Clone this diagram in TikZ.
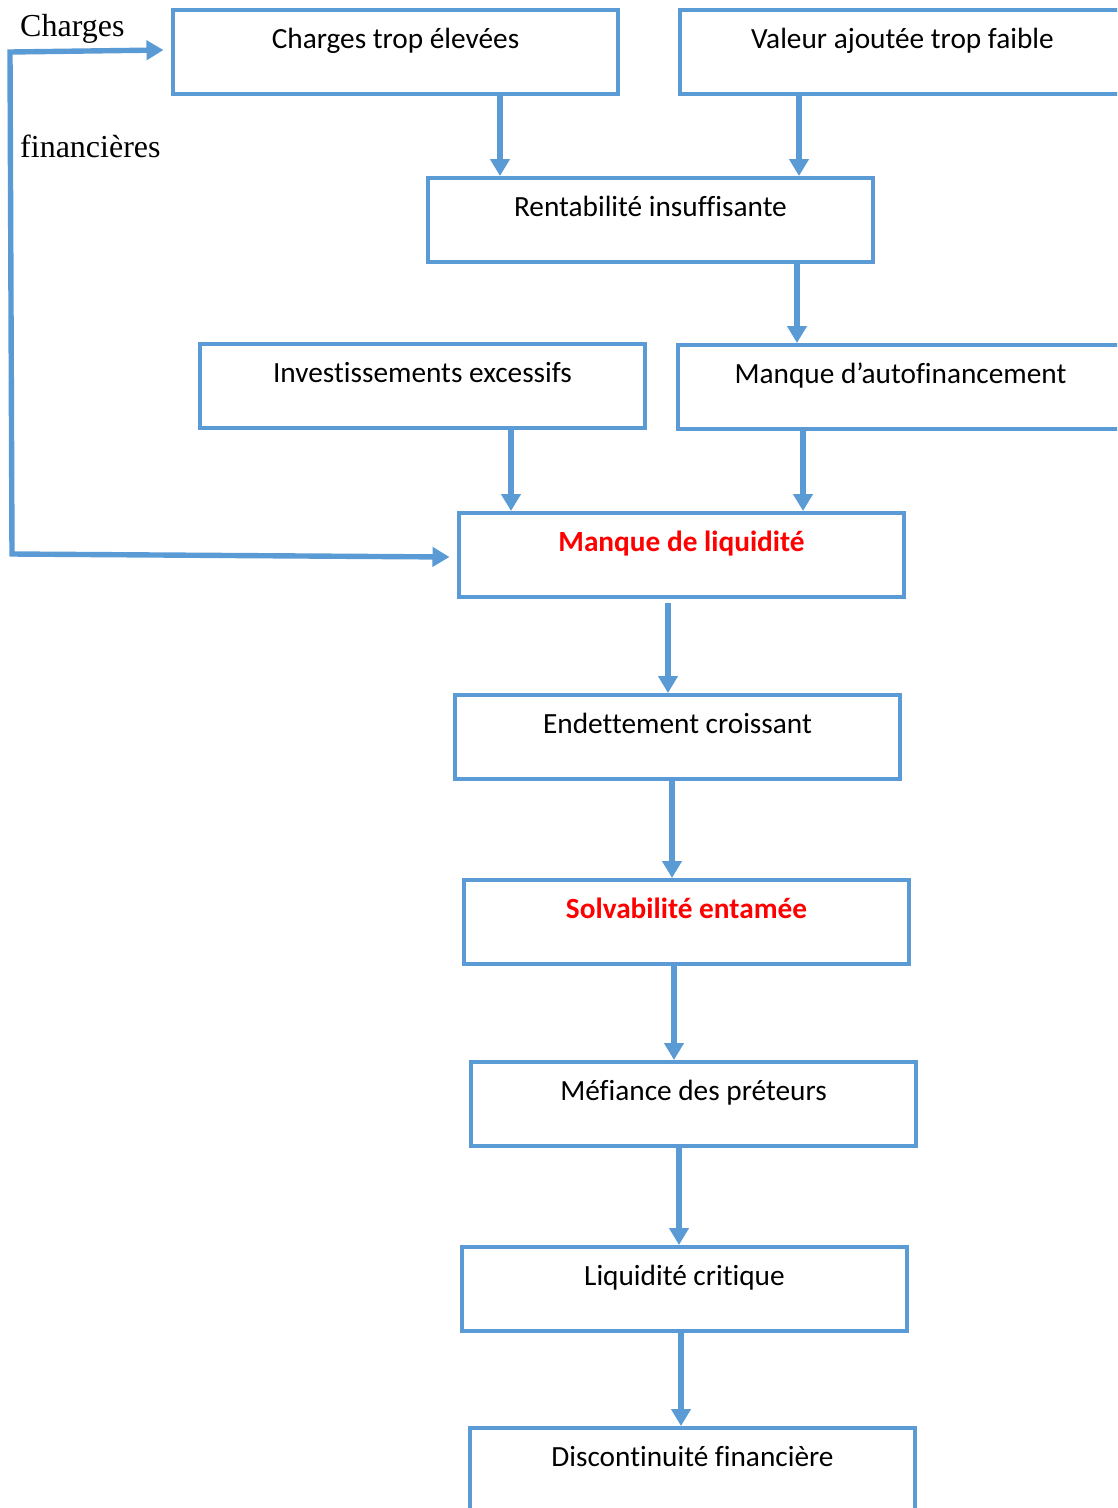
\documentclass[tikz,border=0pt]{standalone}
\usepackage{fontspec}
\setmainfont[Ligatures=NoCommon]{Carlito}
\newfontfamily\timesfont{Liberation Serif}
\usetikzlibrary{arrows.meta}
\definecolor{boxblue}{HTML}{5B9BD5}
\definecolor{alertred}{HTML}{FF0000}
\begin{document}
\begin{tikzpicture}[x=1pt,y=1pt,
  box/.style={draw=boxblue, line width=4pt, rectangle, minimum width=445pt,
    inner xsep=0pt, inner ysep=0pt, text height=38pt, text depth=46pt,
    font=\fontsize{29.3}{35}\selectfont},
  alert/.style={text=alertred, font=\fontsize{29.3}{35}\selectfont\bfseries},
  arr/.style={draw=boxblue, line width=5.4pt, line join=miter,
    -{Triangle[length=17pt,width=19pt]}},
  side/.style={anchor=base west, inner sep=0pt, font=\timesfont\fontsize{32}{38}\selectfont}]
\useasboundingbox (0,0) rectangle (1117,-1508);
\clip (0,0) rectangle (1117,-1508);

% boxes
\node[box] (ch)  at (395.5,-52)   {Charges trop élevées};
\node[box] (va)  at (902.5,-52)   {Valeur ajoutée trop faible};
\node[box] (re)  at (650.5,-220)  {Rentabilité insuffisante};
\node[box] (inv) at (422.5,-386)  {Investissements excessifs};
\node[box] (ma)  at (900.5,-387)  {Manque d’autofinancement};
\node[box,alert] (ml) at (681.5,-555) {Manque de liquidité};
\node[box] (en)  at (677.5,-737)  {Endettement croissant};
\node[box,alert] (so) at (686.5,-922) {Solvabilité entamée};
\node[box] (me)  at (693.5,-1104) {Méfiance des préteurs};
\node[box] (lc)  at (684.5,-1289) {Liquidité critique};
\node[box] (di)  at (692.5,-1470) {Discontinuité financière};

% side labels
\node[side] (lab1) at (20,-36)  {Charges};
\node[side] (lab2) at (20,-157) {financières};

% vertical connectors
\coordinate (s1) at ([xshift=104.5pt]ch.south);
\coordinate (s2) at ([xshift=-103.5pt]va.south);
\coordinate (s3) at ([xshift=146.5pt]re.south);
\coordinate (s4) at ([xshift=88.5pt]inv.south);
\coordinate (s5) at ([xshift=-97.5pt]ma.south);
\coordinate (s6) at ([xshift=-13.5pt,yshift=-4pt]ml.south);
\coordinate (s7) at ([xshift=-5.5pt]en.south);
\coordinate (s8) at ([xshift=-12.5pt]so.south);
\coordinate (s9) at ([xshift=-14.5pt]me.south);
\coordinate (s10) at ([xshift=-3.5pt]lc.south);

\draw[arr] (s1) -- (s1 |- re.north);
\draw[arr] (s2) -- (s2 |- re.north);
\draw[arr] (s3) -- (s3 |- ma.north);
\draw[arr] (s4) -- (s4 |- ml.north);
\draw[arr] (s5) -- (s5 |- ml.north);
\draw[arr] (s6) -- (s6 |- en.north);
\draw[arr] (s7) -- (s7 |- so.north);
\draw[arr] (s8) -- (s8 |- me.north);
\draw[arr] (s9) -- (s9 |- lc.north);
\draw[arr] (s10) -- (s10 |- di.north);

% feedback loop on the left
\coordinate (c1) at (10,-52);
\coordinate (c2) at (12,-554);
\draw[arr, {Triangle[length=17pt,width=19pt]}-{Triangle[length=17pt,width=19pt]}]
  ([shift={(-7.5,2)}]ch.west) -- (c1) -- (c2) -- ([shift={(-7.5,-2)}]ml.west);
\end{tikzpicture}
\end{document}
